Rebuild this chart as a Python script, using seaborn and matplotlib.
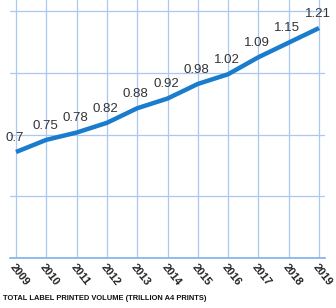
import numpy as np
import pandas as pd
import matplotlib
matplotlib.use("Agg")
import matplotlib.pyplot as plt
from matplotlib import font_manager
import seaborn as sns

years = [2009, 2010, 2011, 2012, 2013, 2014, 2015, 2016, 2017, 2018, 2019]
volume = [0.7, 0.75, 0.78, 0.82, 0.88, 0.92, 0.98, 1.02, 1.09, 1.15, 1.21]
value_labels = ["0.7", "0.75", "0.78", "0.82", "0.88", "0.92", "0.98", "1.02", "1.09", "1.15", "1.21"]
caption = "TOTAL LABEL PRINTED VOLUME (TRILLION A4 PRINTS)"

sns.set_style("white")
plt.rcParams["font.family"] = ["Liberation Sans", "DejaVu Sans"]

# condensed face if there is one, else plain
names = {f.name for f in font_manager.fontManager.ttflist}
narrow = "Liberation Sans Narrow" if "Liberation Sans Narrow" in names else "Liberation Sans"

line_blue = "#1a7ccc"
grid_blue = "#a9c9f2"

df = pd.DataFrame({"year": years, "volume": volume})

fig = plt.figure(figsize=(3.36, 3.08), dpi=100)
ax = fig.add_axes([10 / 336, 50 / 308, 315 / 336, 258 / 308])

sns.lineplot(data=df, x="year", y="volume", ax=ax, color=line_blue,
             linewidth=3.2, solid_capstyle="butt", solid_joinstyle="round")

# pixel -> value mapping
ppu = 243.0
y_lo = 0.7 - (258 - 152) / ppu
y_hi = 0.7 + 152 / ppu
ax.set_ylim(y_lo, y_hi)
ax.set_xlim(2009 - 6 / 30.3, 2019 + 6 / 30.3)

ax.set_yticks(np.linspace(y_lo, 0.7 + (152 - 11) / ppu, 5))
ax.set_yticklabels([])
ax.set_xticks(years)
tick_size = 8.5 if narrow != "Liberation Sans" else 7.9
ax.set_xticklabels([str(y) for y in years], rotation=-52, ha="left", va="top",
                   rotation_mode="anchor", fontsize=tick_size, fontweight="bold",
                   family=narrow, color="#222222")
ax.tick_params(axis="x", length=0, pad=3)
ax.tick_params(axis="y", length=0)
ax.grid(True, color=grid_blue, linewidth=0.9)
ax.set_axisbelow(True)
ax.set_xlabel("")
ax.set_ylabel("")

for s in ["top", "right", "left"]:
    ax.spines[s].set_visible(False)
ax.spines["bottom"].set_color("#7fb0ea")
ax.spines["bottom"].set_linewidth(1.2)

for x, y, t in zip(years, volume, value_labels):
    ax.annotate(t, (x, y), xytext=(-1, 6), textcoords="offset points",
                ha="center", va="bottom", fontsize=9.5, color="#333333")

cap_size = 6.3 if narrow != "Liberation Sans" else 5.4
fig.text(3 / 336, 1 - 298 / 308, caption, ha="left", va="center", fontsize=cap_size,
         fontweight="bold", family=narrow, color="#111111")

fig.savefig("out.png", dpi=100)
